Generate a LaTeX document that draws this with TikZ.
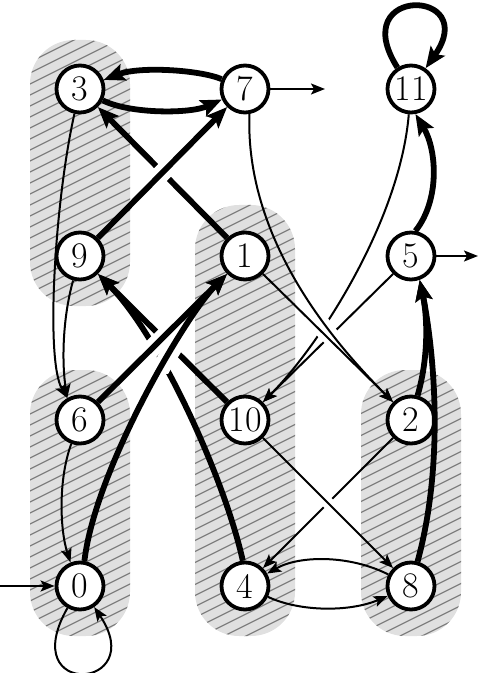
\documentclass[tikz,border=0pt]{standalone}
\usetikzlibrary{arrows.meta,calc}
\begin{document}
\begin{tikzpicture}[x=0.5pt,y=-0.5pt,
  st/.style={circle,draw,line width=1.9pt,fill=white,minimum size=23.5pt,inner sep=0pt,font=\fontsize{18}{20}\selectfont},
  thk/.style={line width=2.9pt,-{Stealth[length=10.5pt,width=8.5pt,inset=2pt]}},
  thn/.style={line width=1pt,-{Stealth[length=7pt,width=5.5pt,inset=1.5pt]}},
  halothk/.style={draw=white,line width=9pt},
  halothn/.style={draw=white,line width=6pt},
  hatch/.style={draw=black!50,line width=0.6pt}]
\useasboundingbox (0,0) rectangle (491,673);
% shaded groups
\begin{scope}
  \clip[rounded corners=22pt] (30,40) rectangle (130,306) (30,370) rectangle (130,636)
    (195,205) rectangle (295,470) (195,370) rectangle (295,636) (361,370) rectangle (461,636);
  \fill[black!12] (0,0) rectangle (491,673);
  \foreach \k in {0,...,90} \draw[hatch] (0,11*\k) -- ++(600,-300);
\end{scope}
% states
\node[st] (n3) at (80,89) {3};
\node[st] (n7) at (245,89) {7};
\node[st] (n11) at (411,89) {11};
\node[st] (n9) at (80,256) {9};
\node[st] (n1) at (245,256) {1};
\node[st] (n5) at (411,256) {5};
\node[st] (n6) at (80,420) {6};
\node[st] (n10) at (245,420) {10};
\node[st] (n2) at (411,420) {2};
\node[st] (n0) at (80,586) {0};
\node[st] (n4) at (245,586) {4};
\node[st] (n8) at (411,586) {8};
\coordinate (o7) at (325,89);
\coordinate (o5) at (478,256);
\coordinate (i0) at (0,586);
% edges drawn underneath
\draw[thk] (n1) -- (n3);
\draw[thk] (n10.135) -- (n9.-45);
\draw[thk] (n4.95) .. controls (225,480) and (160,336) .. (n9.-45);
\draw[thn] (n11.-95) .. controls (400,220) and (320,345) .. (n10.45);
\draw[thn] (n5.-135) -- (n10.45);
\draw[thn] (n2) -- (n4);
% gaps at crossings
\begin{scope}
  \clip (162.5,172.5) circle (10pt);
  \draw[halothk] (n9) -- (n7);
\end{scope}
\begin{scope}
  \clip (165,342) circle (16pt);
  \draw[halothk] (n6.45) -- (n1.225);
  \draw[halothk] (n0.80) .. controls (95,470) and (185,316) .. (n1.225);
\end{scope}
\begin{scope}
  \clip (327,328) circle (12pt);
  \draw[halothn] (n7.-80) .. controls (245,240) and (334,343) .. (n2.135);
  \draw[halothn] (n1.-45) -- (n2.135);
\end{scope}
\begin{scope}
  \clip (328,503) circle (10pt);
  \draw[halothn] (n10) -- (n8);
\end{scope}
% edges drawn on top
\draw[thk] (n9) -- (n7);
\draw[thk] (n6.45) -- (n1.225);
\draw[thk] (n0.80) .. controls (95,470) and (185,316) .. (n1.225);
\draw[thn] (n7.-80) .. controls (245,240) and (334,343) .. (n2.135);
\draw[thn] (n1.-45) -- (n2.135);
\draw[thn] (n10) -- (n8);
% other edges
\draw[thk] (n7) .. controls (200,70) and (140,66) .. (n3);
\draw[thk] (n3) .. controls (130,114) and (190,114) .. (n7);
\draw[thn] (n7) -- (o7);
\draw[thk] (n11) .. controls (345,-15) and (482,-12) .. (n11);
\draw[thn] (n3) .. controls (55,200) and (45,360) .. (n6.120);
\draw[thn] (n9) .. controls (62,320) and (62,365) .. (n6.120);
\draw[thn] (n6) .. controls (58,480) and (60,530) .. (n0.112);
\draw[thn] (n0) .. controls (15,700) and (150,690) .. (n0);
\draw[thn] (i0) -- (n0);
\draw[thn] (n5) -- (o5);
\draw[thk] (n5.80) .. controls (440,200) and (437,150) .. (n11.-80);
\draw[thk] (n2.75) .. controls (428,360) and (428,320) .. (n5.-70);
\draw[thk] (n8.75) .. controls (448,450) and (430,330) .. (n5.-70);
\draw[thn] (n8) .. controls (350,555) and (300,555) .. (n4);
\draw[thn] (n4) .. controls (300,612) and (350,612) .. (n8);
\end{tikzpicture}
\end{document}
